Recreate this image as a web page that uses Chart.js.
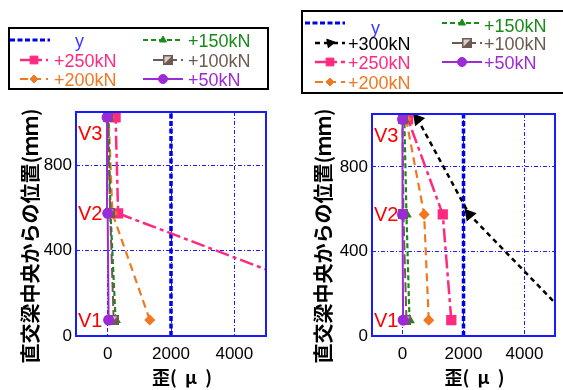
<!DOCTYPE html>
<html><head><meta charset="utf-8">
<script src="https://cdn.jsdelivr.net/npm/chart.js@4"></script>
<style>
html,body{margin:0;padding:0;background:#fff;width:563px;height:390px;overflow:hidden}
#c1{position:absolute;left:0;top:0}
#c2{position:absolute;left:282px;top:0}
</style></head><body>
<canvas id="c1" width="282" height="390"></canvas>
<canvas id="c2" width="281" height="390"></canvas>
<script>
// ---- data ----
const positions = [75, 575, 1025];            // V1, V2, V3 position (mm)
const sectionLabels = ['V1', 'V2', 'V3'];
const sectionLabelPos = [75, 575, 950];
const yieldStrain = 2000;
const xTicks = [0, 2000, 4000];
const yTicks = [0, 400, 800];
const xMin = -1000, xMax = 5000, yMin = 0, yMax = 1050;
const xTitle = '歪(  μ  )';
const yTitle = '直交梁中央からの位置(ｍｍ)';

// left chart strains (V1, V2, V3)
const left250 = [9200, 330, 250];
const left200 = [1330, 150, 30];
const left150 = [250, 90, 20];
const left100 = [190, 80, 0];
const left50  = [30, 0, -20];

// right chart strains (V1, V2, V3)
const right300 = [5550, 2190, 500];
const right250 = [1600, 1320, 180];
const right200 = [860, 710, 120];
const right150 = [230, 130, 60];
const right100 = [130, 30, 0];
const right50  = [20, 0, 0];

// ---- styles ----
const C = {
  y: '#0000e6', yText: '#3a3aff', k300: '#000000', k250: '#ff2a80', k200: '#f07820',
  k150: '#1a8a1a', k100: '#6e5a50', k50: '#9b2bd6', grid: '#1a1aff', label: '#ff0000'
};
const FONT = '"Liberation Sans", Arial, sans-serif';
const CJK = '"Noto Sans CJK JP", sans-serif';

function halfSquare() {
  const c = document.createElement('canvas');
  c.width = 10; c.height = 10;
  const g = c.getContext('2d');
  g.fillStyle = '#d8d0cc'; g.fillRect(0, 0, 10, 10);
  g.fillStyle = C.k100;
  g.beginPath(); g.moveTo(0, 10); g.lineTo(10, 10); g.lineTo(10, 0); g.closePath(); g.fill();
  g.strokeStyle = C.k100; g.lineWidth = 1.5; g.strokeRect(0.75, 0.75, 8.5, 8.5);
  return c;
}
const HALF = halfSquare();

function pts(vals) { return vals.map((v, i) => ({ x: v, y: positions[i] })); }

function ds(label, vals, color, dash, width, pstyle, radius, rot) {
  return {
    label, data: pts(vals), showLine: true, borderColor: color, backgroundColor: color,
    borderWidth: width, borderDash: dash, pointStyle: pstyle, pointRadius: radius,
    pointHoverRadius: radius, pointBorderColor: color, pointBackgroundColor: color,
    pointRotation: rot || 0, tension: 0
  };
}
function yieldDs() {
  return {
    label: 'y', data: [{ x: yieldStrain, y: yMin }, { x: yieldStrain, y: yMax }], showLine: true,
    borderColor: C.y, borderWidth: 3.5, borderDash: [5, 2.5], pointRadius: 0, tension: 0
  };
}

function legendPlugin(box, items) {
  return {
    id: 'customLegend',
    afterDraw(chart) {
      const ctx = chart.ctx;
      ctx.save();
      ctx.strokeStyle = '#000'; ctx.lineWidth = 2;
      ctx.strokeRect(box.x, box.y, box.w, box.h);
      items.forEach(it => {
        const d = chart.data.datasets.find(s => s.label === it.label);
        ctx.save();
        ctx.strokeStyle = d.borderColor; ctx.lineWidth = Math.min(d.borderWidth, 3);
        ctx.setLineDash(d.borderDash || []);
        ctx.beginPath(); ctx.moveTo(it.x1, it.ly); ctx.lineTo(it.x2, it.ly); ctx.stroke();
        ctx.restore();
        if (d.pointRadius) {
          ctx.save();
          ctx.fillStyle = d.pointBackgroundColor; ctx.strokeStyle = d.pointBorderColor;
          ctx.setLineDash([]); ctx.lineWidth = 1;
          Chart.helpers.drawPoint(ctx, {
            pointStyle: d.pointStyle, radius: d.pointRadius, rotation: d.pointRotation || 0, borderWidth: 1
          }, (it.x1 + it.x2) / 2, it.ly);
          ctx.restore();
        }
        ctx.fillStyle = it.color; ctx.font = '18px ' + FONT;
        ctx.textBaseline = 'middle'; ctx.textAlign = 'left';
        ctx.fillText(it.label, it.tx, it.ty);
      });
      ctx.restore();
    }
  };
}

function frameAndLabels(yTitleX, yTitleY) {
  return {
    id: 'frameAndLabels',
    afterDatasetsDraw(chart) {
      const { ctx, chartArea: a, scales } = chart;
      ctx.save();
      ctx.strokeStyle = C.grid; ctx.lineWidth = 2;
      ctx.strokeRect(a.left, a.top, a.right - a.left, a.bottom - a.top);
      ctx.fillStyle = C.label; ctx.font = '20px ' + FONT;
      ctx.textBaseline = 'middle'; ctx.textAlign = 'left';
      sectionLabels.forEach((t, i) => {
        ctx.fillText(t, a.left + 2, scales.y.getPixelForValue(sectionLabelPos[i]) + 1);
      });
      ctx.restore();
      // axis titles
      ctx.save();
      ctx.fillStyle = '#000';
      ctx.textAlign = 'center'; ctx.textBaseline = 'middle';
      ctx.font = 'bold 18px ' + CJK;
      ctx.fillText(xTitle, (a.left + a.right) / 2 + 11, 377);
      ctx.font = 'bold 20px ' + CJK;
      ctx.translate(yTitleX, yTitleY);
      ctx.rotate(-Math.PI / 2);
      ctx.fillText(yTitle, 0, 0);
      ctx.restore();
    }
  };
}

function makeChart(id, datasets, yWidth, padRight, padTop, yTitleX, legend) {
  return new Chart(document.getElementById(id), {
    type: 'scatter',
    data: { datasets },
    options: {
      responsive: false, devicePixelRatio: 1, animation: false,
      layout: { padding: { top: padTop, right: padRight, left: 0, bottom: 0 } },
      plugins: { legend: { display: false }, tooltip: { enabled: false } },
      elements: { point: { borderWidth: 1 } },
      scales: {
        x: {
          type: 'linear', min: xMin, max: xMax,
          afterBuildTicks(s) { s.ticks = xTicks.map(v => ({ value: v })); },
          afterFit(s) { s.height = 54; },
          grid: { color: C.grid, lineWidth: 1, drawTicks: false },
          border: { display: false, dash: [4, 2, 1, 2] },
          ticks: { color: '#000', font: { family: FONT, size: 17 }, padding: 8, maxRotation: 0, callback: v => String(v) },
          title: { display: false }
        },
        y: {
          type: 'linear', min: yMin, max: yMax,
          afterBuildTicks(s) { s.ticks = yTicks.map(v => ({ value: v })); },
          afterFit(s) { s.width = yWidth; },
          grid: { color: C.grid, lineWidth: 1, drawTicks: false },
          border: { display: false, dash: [4, 2, 1, 2] },
          ticks: { color: '#000', font: { family: FONT, size: 17 }, padding: 4, callback: v => String(v) },
          title: { display: false }
        }
      }
    },
    plugins: [frameAndLabels(yTitleX, 236), legend]
  });
}

const leftSets = [
  ds('+50kN', left50, C.k50, [], 2, 'circle', 4.5),
  ds('+100kN', left100, C.k100, [10, 4], 2, HALF, 5),
  ds('+150kN', left150, C.k150, [5, 3], 2.2, 'triangle', 4),
  ds('+200kN', left200, C.k200, [8, 5], 2.2, 'rectRot', 4),
  ds('+250kN', left250, C.k250, [14, 4, 4, 4], 2.5, 'rect', 5.5),
  yieldDs()
];
const rightSets = [
  ds('+50kN', right50, C.k50, [], 2, 'circle', 4.5),
  ds('+100kN', right100, C.k100, [10, 4], 2, HALF, 5),
  ds('+150kN', right150, C.k150, [5, 3], 2.2, 'triangle', 4),
  ds('+200kN', right200, C.k200, [8, 5], 2.2, 'rectRot', 4),
  ds('+250kN', right250, C.k250, [14, 4, 4, 4], 2.5, 'rect', 5.5),
  ds('+300kN', right300, C.k300, [5, 4], 2.5, 'triangle', 5, -40),
  yieldDs()
];

const leftLegend = legendPlugin({ x: 9, y: 28, w: 259, h: 61 }, [
  { label: 'y', x1: 10, x2: 50, ly: 40, tx: 75, ty: 42, color: C.yText },
  { label: '+150kN', x1: 143, x2: 183, ly: 40, tx: 188, ty: 42, color: C.k150 },
  { label: '+250kN', x1: 20, x2: 48, ly: 60, tx: 54, ty: 62, color: C.k250 },
  { label: '+100kN', x1: 153, x2: 183, ly: 60, tx: 188, ty: 62, color: C.k100 },
  { label: '+200kN', x1: 20, x2: 48, ly: 79, tx: 54, ty: 81, color: C.k200 },
  { label: '+50kN', x1: 143, x2: 183, ly: 79, tx: 188, ty: 81, color: C.k50 }
]);
const rightLegend = legendPlugin({ x: 20, y: 11, w: 263, h: 82 }, [
  { label: 'y', x1: 23, x2: 63, ly: 23, tx: 89, ty: 29, color: C.yText },
  { label: '+150kN', x1: 160, x2: 200, ly: 23, tx: 202, ty: 27, color: C.k150 },
  { label: '+300kN', x1: 33, x2: 63, ly: 43, tx: 66, ty: 45, color: C.k300 },
  { label: '+100kN', x1: 170, x2: 200, ly: 43, tx: 202, ty: 45, color: C.k100 },
  { label: '+250kN', x1: 33, x2: 63, ly: 62, tx: 66, ty: 64, color: C.k250 },
  { label: '+50kN', x1: 160, x2: 200, ly: 62, tx: 202, ty: 64, color: C.k50 },
  { label: '+200kN', x1: 33, x2: 63, ly: 82, tx: 66, ty: 84, color: C.k200 }
]);

makeChart('c1', leftSets, 76, 16, 112, 30, leftLegend);
makeChart('c2', rightSets, 90, 4, 114, 41, rightLegend);
</script>
</body></html>
